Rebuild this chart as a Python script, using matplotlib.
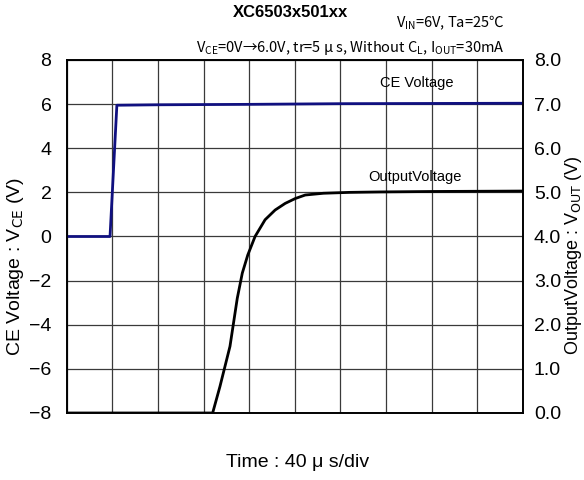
import matplotlib.pyplot as plt
from matplotlib.ticker import FormatStrFormatter

plt.rcParams['font.family'] = ['Liberation Sans', 'Noto Sans CJK JP', 'DejaVu Sans']
plt.rcParams['mathtext.fontset'] = 'custom'
plt.rcParams['mathtext.rm'] = 'Noto Sans CJK JP'
plt.rcParams['mathtext.it'] = 'Noto Sans CJK JP'
plt.rcParams['mathtext.bf'] = 'Noto Sans CJK JP:bold'

# time in divisions (40 us/div)
ce_t = [0, 0.95, 1.1, 2, 4, 6, 8, 10]
ce_v = [0.0, 0.0, 5.95, 5.97, 5.99, 6.02, 6.03, 6.04]

out_t = [0, 3.2, 3.36, 3.58, 3.74, 3.85, 3.97, 4.13, 4.35, 4.57, 4.79, 5.01, 5.23, 5.63, 6.2, 6.87, 8, 10]
out_v = [0.0, 0.0, 0.6, 1.51, 2.60, 3.17, 3.58, 4.0, 4.38, 4.60, 4.75, 4.86, 4.94, 4.98, 5.0, 5.01, 5.02, 5.03]

left_ticks = [-8, -6, -4, -2, 0, 2, 4, 6, 8]
right_ticks = [0, 1, 2, 3, 4, 5, 6, 7, 8]

fig = plt.figure(figsize=(5.84, 4.80), dpi=100)
ax = fig.add_axes([0.1142, 0.1396, 0.781, 0.7354])
ax2 = ax.twinx()

ax.plot(ce_t, ce_v, color='#101080', lw=2, zorder=3)
ax2.plot(out_t, out_v, color='black', lw=2, zorder=3)

ax.set_xlim(0, 10)
ax.set_ylim(-8, 8)
ax2.set_ylim(0, 8)
ax.set_xticks(range(11))
ax.set_xticklabels([])
ax.set_yticks(left_ticks)
ax2.set_yticks(right_ticks)
ax2.yaxis.set_major_formatter(FormatStrFormatter('%.1f'))

ax.grid(True, color='#3a3a3a', lw=0.9)
ax.tick_params(axis='x', length=0)
ax.tick_params(axis='y', length=0, labelsize=14, pad=11)
ax2.tick_params(axis='y', length=0, labelsize=14, pad=8)
for a in (ax, ax2):
    for s in a.spines.values():
        s.set_linewidth(1.2)

# axis titles placed like the original
fig.text(0.026, 0.444, 'CE Voltage : V$_{\\mathrm{CE}}$ (V)', fontsize=14, rotation=90,
         ha='center', va='center', math_fontfamily='dejavusans')
fig.text(0.982, 0.469, 'OutputVoltage : V$_{\\mathrm{OUT}}$ (V)', fontsize=13, rotation=90,
         ha='center', va='center', math_fontfamily='dejavusans')
fig.text(0.51, 0.037, 'Time : 40 μ s/div', fontsize=14, ha='center', va='center')

ax.text(6.87, 6.95, 'CE Voltage', fontsize=10.5, ha='left', va='center')
ax2.text(6.61, 5.35, 'OutputVoltage', fontsize=10.5, ha='left', va='center')

fig.text(0.497, 0.973, 'XC6503x501xx', fontsize=12, fontweight='bold', ha='center', va='center')
fig.text(0.864, 0.952, 'V$_{\\mathrm{IN}}$=6V, Ta=25℃', fontsize=10.5, ha='right', va='center',
         family=['Noto Sans CJK JP'], math_fontfamily='custom')
fig.text(0.864, 0.899, 'V$_{\\mathrm{CE}}$=0V→6.0V, tr=5 μ s, Without C$_{\\mathrm{L}}$, I$_{\\mathrm{OUT}}$=30mA',
         fontsize=10.5, ha='right', va='center',
         family=['Noto Sans CJK JP'], math_fontfamily='custom')

fig.savefig('out.png', dpi=100)
